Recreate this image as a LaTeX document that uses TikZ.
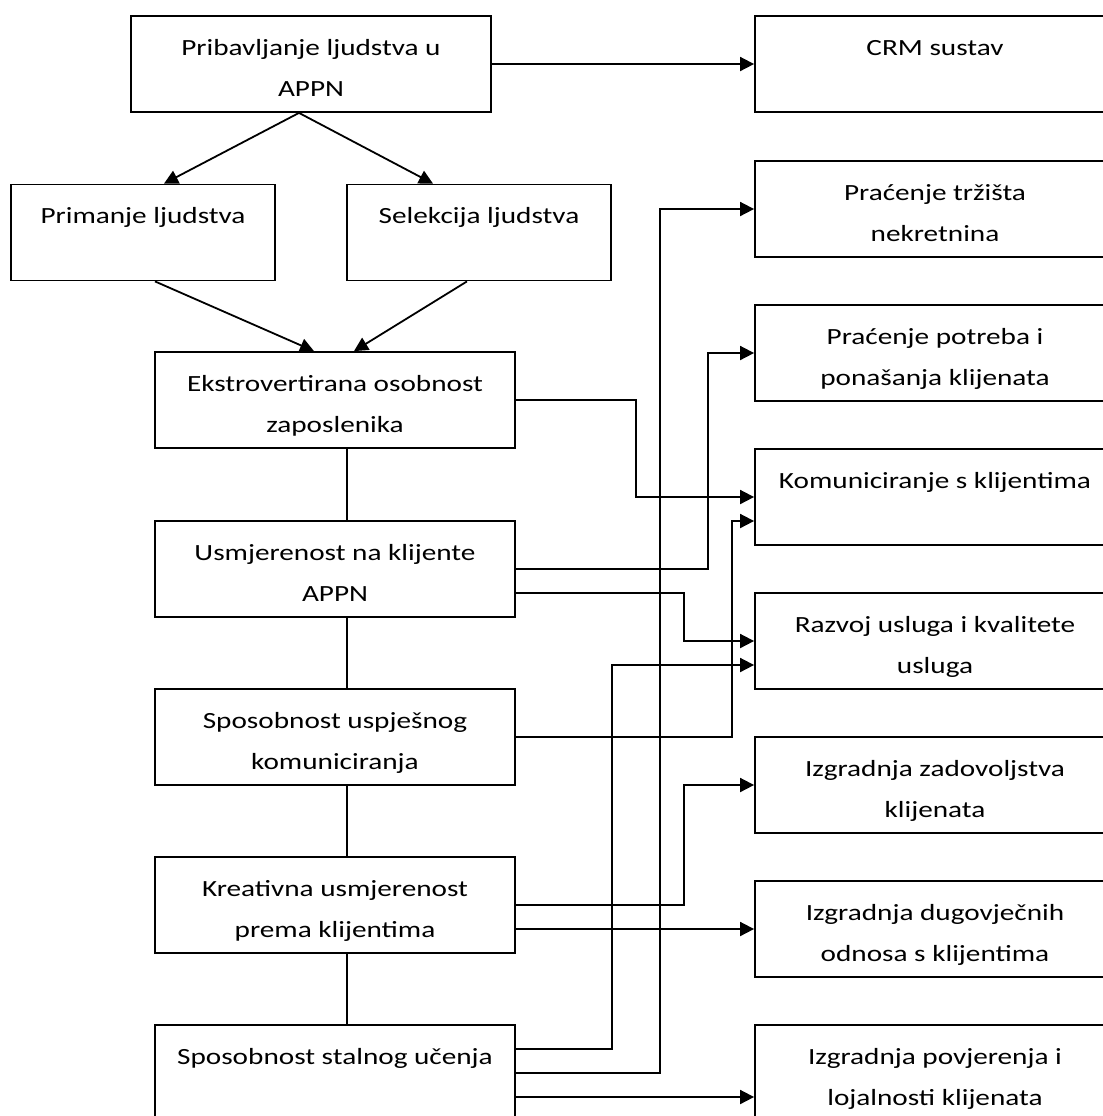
\documentclass[tikz,border=0pt]{standalone}
\usepackage{fontspec}
\setmainfont{Carlito}[FakeStretch=1.26]
\usetikzlibrary{arrows.meta,calc}
\tikzset{
  bx/.style={draw, line width=0.9pt, inner sep=0pt, minimum height=48pt},
  wide/.style={bx, minimum width=180pt},
  narrow/.style={bx, minimum width=132pt},
  txt/.style={inner sep=0pt, anchor=base, align=center, font=\fontsize{11.6}{20.8}\selectfont},
  ln/.style={line width=0.9pt},
  arr/.style={ln, -{Triangle[length=7pt,width=7pt]}}
}
\begin{document}
\begin{tikzpicture}[x=0.5pt,y=-0.5pt]
\useasboundingbox (0,0) rectangle (1103,1116);
% left column
\node[wide] (A) at (311,64) {};
\node[narrow] (Pr) at (143,232.5) {};
\node[narrow] (Se) at (479,232.5) {};
\node[wide] (E) at (335,400) {};
\node[wide] (U) at (335,569) {};
\node[wide] (S1) at (335,737) {};
\node[wide] (K) at (335,905) {};
\node[wide] (S2) at (335,1073) {};
% right column
\node[wide] (CRM) at (935,64) {};
\node[wide] (PT) at (935,209) {};
\node[wide] (PP) at (935,353) {};
\node[wide] (KO) at (935,497) {};
\node[wide] (RA) at (935,641) {};
\node[wide] (IZ) at (935,785) {};
\node[wide] (ID) at (935,929) {};
\node[wide] (IP) at (935,1073) {};
% texts (base anchor = baseline of the last line)
\node[txt] (At) at ($(A.north)+(0,81.5)$) {Pribavljanje ljudstva u\\APPN};
\node[txt] (Prt) at ($(Pr.north)+(0,40)$) {Primanje ljudstva};
\node[txt] (Set) at ($(Se.north)+(0,40)$) {Selekcija ljudstva};
\node[txt] (Et) at ($(E.north)+(0,81.5)$) {Ekstrovertirana osobnost\\zaposlenika};
\node[txt] (Ut) at ($(U.north)+(0,81.5)$) {Usmjerenost na klijente\\APPN};
\node[txt] (S1t) at ($(S1.north)+(0,81.5)$) {Sposobnost uspješnog\\komuniciranja};
\node[txt] (Kt) at ($(K.north)+(0,81.5)$) {Kreativna usmjerenost\\prema klijentima};
\node[txt] (S2t) at ($(S2.north)+(0,40)$) {Sposobnost stalnog učenja};
\node[txt] (CRMt) at ($(CRM.north)+(0,40)$) {CRM sustav};
\node[txt] (PTt) at ($(PT.north)+(0,81.5)$) {Praćenje tržišta\\nekretnina};
\node[txt] (PPt) at ($(PP.north)+(0,81.5)$) {Praćenje potreba i\\ponašanja klijenata};
\node[txt] (KOt) at ($(KO.north)+(0,40)$) {Komuniciranje s klijentima};
\node[txt] (RAt) at ($(RA.north)+(0,81.5)$) {Razvoj usluga i kvalitete\\usluga};
\node[txt] (IZt) at ($(IZ.north)+(0,81.5)$) {Izgradnja zadovoljstva\\klijenata};
\node[txt] (IDt) at ($(ID.north)+(0,81.5)$) {Izgradnja dugovječnih\\odnosa s klijentima};
\node[txt] (IPt) at ($(IP.north)+(0,81.5)$) {Izgradnja povjerenja i\\lojalnosti klijenata};
% top connectors
\draw[arr] (A.east) -- (CRM.west);
\draw[arr] ($(A.south)+(-12,0)$) -- ($(Pr.north)+(21,0)$);
\draw[arr] ($(A.south)+(-12,0)$) -- ($(Se.north)+(-46,0)$);
\draw[arr] ($(Pr.south)+(12,0)$) -- ($(E.north)+(-21,0)$);
\draw[arr] ($(Se.south)+(-12,0)$) -- ($(E.north)+(19,0)$);
% vertical chain
\draw[ln] ($(E.south)+(12,0)$) -- ($(U.north)+(12,0)$);
\draw[ln] ($(U.south)+(12,0)$) -- ($(S1.north)+(12,0)$);
\draw[ln] ($(S1.south)+(12,0)$) -- ($(K.north)+(12,0)$);
\draw[ln] ($(K.south)+(12,0)$) -- ($(S2.north)+(12,0)$);
% right connectors
\draw[arr] (E.east) -- ++(120,0) |- (KO.west);
\draw[arr] (U.east) -- ++(192,0) |- (PP.west);
\draw[arr] ($(U.east)+(0,24)$) -- ++(168,0) |- (RA.west);
\draw[arr] (S1.east) -- ++(216,0) |- ($(KO.west)+(0,24)$);
\draw[arr] (K.east) -- ++(168,0) |- (IZ.west);
\draw[arr] ($(K.east)+(0,24)$) -- ($(ID.west)$);
\draw[arr] ($(S2.east)+(0,-24)$) -- ++(96,0) |- ($(RA.west)+(0,24)$);
\draw[arr] (S2.east) -- ++(144,0) |- (PT.west);
\draw[arr] ($(S2.east)+(0,24)$) -- ($(IP.west)+(0,24)$);
\end{tikzpicture}
\end{document}
